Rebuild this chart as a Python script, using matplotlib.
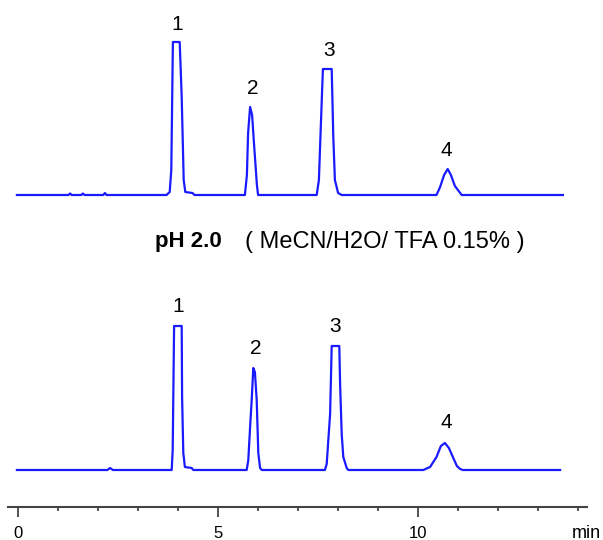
import matplotlib
matplotlib.use('Agg')
from matplotlib import pyplot as plt

plt.rcParams['font.family'] = ['Liberation Sans', 'DejaVu Sans']

# DATA: traces (time in min, signal height)
top_t = [-0.04, 1.25, 1.29, 1.33, 1.57, 1.61, 1.65, 2.12, 2.16, 2.2, 3.70, 3.78, 3.82, 3.86, 4.03, 4.08, 4.13, 4.17, 4.35, 4.40,
         5.66, 5.71, 5.74, 5.79, 5.84, 5.89, 5.96, 5.99,
         7.455, 7.51, 7.55, 7.61, 7.83, 7.87, 7.91, 7.99, 8.08,
         10.45, 10.54, 10.64, 10.73, 10.81, 10.91, 11.08, 13.61]
top_y = [0, 0, 1.5, 0, 0, 1.5, 0, 0, 2, 0, 0, 3, 25, 153, 153, 98, 15, 3, 2, 0,
         0, 20, 62, 88, 80, 50, 10, 0,
         0, 15, 60, 126, 126, 58, 15, 2, 0,
         0, 8, 20, 26, 20, 9, 0, 0]

bot_t = [-0.04, 2.22, 2.29, 2.36, 3.83, 3.855, 3.89, 4.08, 4.09, 4.12, 4.16, 4.33, 4.37,
         5.705, 5.745, 5.79, 5.83, 5.87, 5.91, 5.955, 5.995, 6.04, 6.08,
         7.66, 7.705, 7.79, 7.83, 8.02, 8.04, 8.08, 8.12, 8.205, 8.245,
         10.12, 10.29, 10.45, 10.56, 10.66, 10.76, 10.87, 10.96, 11.04, 11.11, 13.54]
bot_y = [0, 0, 2, 0, 0, 20, 144, 144, 73, 17, 3, 2, 0,
         0, 10, 43, 70, 102, 98, 70, 17, 2, 0,
         0, 6, 56, 124, 124, 86, 36, 13, 2, 0,
         0, 3, 13, 24, 27, 22, 12, 4, 1, 0, 0]

peak_names = ['1', '2', '3', '4']
top_label_t = [3.975, 5.86, 7.775, 10.69]
top_label_h = [153, 88, 126, 26]
bot_label_t = [3.99, 5.94, 7.925, 10.69]
bot_label_h = [144, 102, 124, 27]

title_bold = 'pH 2.0'
title_rest = '( MeCN/H2O/ TFA 0.15% )'

# LAYOUT
top_base = 540 - 195
bot_base = 540 - 470
axis_y = 540 - 507
blue = '#1a1aff'

fig = plt.figure(figsize=(6.03, 5.40), dpi=100)
ax = fig.add_axes([0, 0, 1, 1])
ax.set_xlim(-18.5 / 40, (603 - 18.5) / 40)
ax.set_ylim(0, 540)

ax.plot(top_t, [top_base + v for v in top_y], color=blue, lw=1.6, solid_joinstyle='round')
ax.plot(bot_t, [bot_base + v for v in bot_y], color=blue, lw=1.6, solid_joinstyle='round')

for n, t, h in zip(peak_names, top_label_t, top_label_h):
    ax.text(t, top_base + h + 18, n, ha='center', va='center', fontsize=15)
for n, t, h in zip(peak_names, bot_label_t, bot_label_h):
    ax.text(t, bot_base + h + 20, n, ha='center', va='center', fontsize=15)

t1 = ax.text(-18.5 / 40 + 155 / 40, 540 - 242, title_bold, ha='left', va='center',
             fontsize=16, fontweight='bold')
ax.annotate(title_rest, xy=(1, 0.5), xycoords=t1, xytext=(17, 0), textcoords='offset points',
            ha='left', va='center', fontsize=17)

# time axis
for s in ['top', 'left', 'right']:
    ax.spines[s].set_visible(False)
ax.spines['bottom'].set_position(('data', axis_y))
ax.spines['bottom'].set_bounds(-0.26, 14.21)
ax.spines['bottom'].set_color('#444444')
ax.spines['bottom'].set_linewidth(1.5)
ax.set_yticks([])
ax.set_xticks([0, 5, 10])
ax.set_xticks(range(0, 15), minor=True)
ax.tick_params(axis='x', which='major', length=7, width=1.3, color='#444444', pad=7, labelsize=12)
ax.tick_params(axis='x', which='minor', length=3, width=1.3, color='#444444')
ax.text((601 - 18.5) / 40, 540 - 533, 'min', ha='right', va='center', fontsize=13)

fig.savefig('out.png', dpi=100)
